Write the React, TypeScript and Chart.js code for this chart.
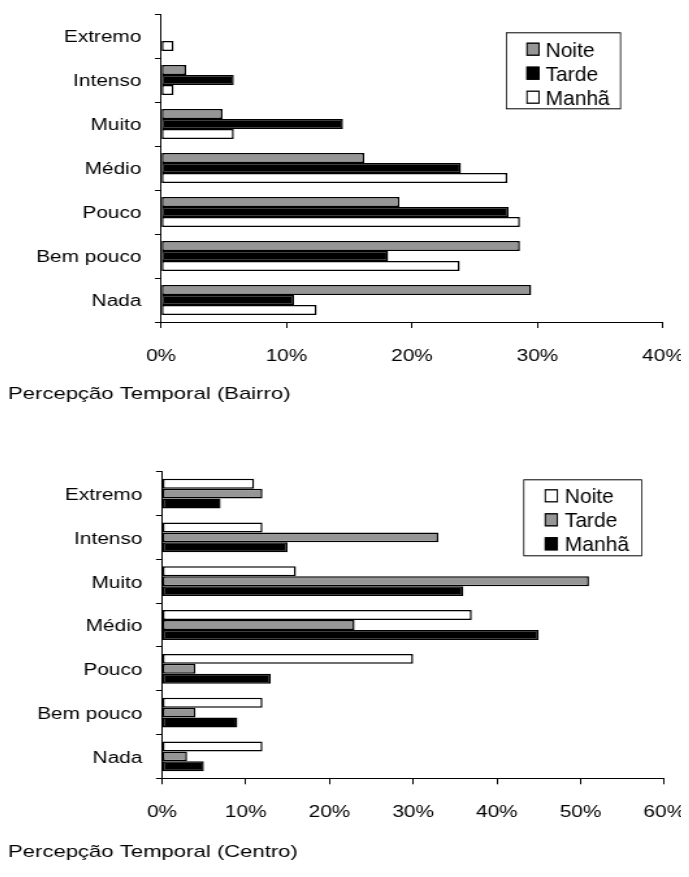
import { useEffect, useRef } from 'react';
import { Chart, registerables } from 'chart.js';

Chart.register(...registerables);

// Intensity levels, listed top to bottom
const categories = ['Extremo', 'Intenso', 'Muito', 'Médio', 'Pouco', 'Bem pouco', 'Nada'];
const periods = ['Noite', 'Tarde', 'Manhã'];

// Percepção temporal – Bairro (%)
const bairroNoite = [0, 2, 4.9, 16.2, 19.0, 28.6, 29.5];
const bairroTarde = [0, 5.8, 14.5, 23.9, 27.7, 18.1, 10.6];
const bairroManha = [1, 1, 5.8, 27.6, 28.6, 23.8, 12.4];
const bairroTicks = ['0%', '10%', '20%', '30%', '40%'];

// Percepção temporal – Centro (%)
const centroNoite = [11, 12, 16, 37, 30, 12, 12];
const centroTarde = [12, 33, 51, 23, 4, 4, 3];
const centroManha = [7, 15, 36, 45, 13, 9, 5];
const centroTicks = ['0%', '10%', '20%', '30%', '40%', '50%', '60%'];

const GRAY = '#969696';
const BLACK = '#000000';
const WHITE = '#ffffff';

const FONT = '"Liberation Sans", Arial, Helvetica, sans-serif';
const STRETCH = 1.3; // the figure is drawn narrow and widened horizontally
const CANVAS_W = 524;
const X_AXIS_H = 44;

// Boxed legend drawn inside the plot area (un-widened text)
const boxedLegend = {
  id: 'boxedLegend',
  afterDraw(chart: any, _args: any, opts: any) {
    const { ctx, chartArea } = chart;
    ctx.save();
    ctx.translate(chartArea.right, chartArea.top);
    ctx.scale(1 / STRETCH, 1);
    const left = -opts.right - opts.width;
    const top = opts.top;
    ctx.fillStyle = WHITE;
    ctx.fillRect(left, top, opts.width, opts.height);
    ctx.strokeStyle = BLACK;
    ctx.lineWidth = 1;
    ctx.strokeRect(left + 0.5, top + 0.5, opts.width - 1, opts.height - 1);
    ctx.font = `${opts.fontSize}px ${FONT}`;
    ctx.textAlign = 'left';
    ctx.textBaseline = 'alphabetic';
    chart.data.datasets.forEach((ds: any, i: number) => {
      const base = top + opts.firstBaseline + i * opts.rowStep;
      ctx.fillStyle = ds.backgroundColor;
      ctx.fillRect(left + opts.symbolX, base - 14, 13, 13);
      ctx.lineWidth = 1.3;
      ctx.strokeRect(left + opts.symbolX + 0.5, base - 13.5, 12, 12);
      ctx.fillStyle = BLACK;
      ctx.fillText(ds.label, left + opts.textX, base);
    });
    ctx.restore();
  },
};

type PanelProps = {
  title: string;
  series: number[][];
  colors: string[];
  tickLabels: string[];
  height: number;
  axisLeft: number;
  plotRight: number;
  padTop: number;
  tickPad: number;
  titlePad: { top: number; bottom: number };
  legend: any;
};

function BarPanel(p: PanelProps) {
  const ref = useRef<HTMLCanvasElement>(null);

  useEffect(() => {
    if (!ref.current) return;
    const maxVal = (p.tickLabels.length - 1) * 10;
    const chart = new Chart(ref.current, {
      type: 'bar',
      data: {
        labels: categories,
        datasets: periods.map((name, i) => ({
          label: name,
          data: p.series[i],
          backgroundColor: p.colors[i],
          borderColor: BLACK,
          borderWidth: 1.5,
          borderSkipped: false,
          categoryPercentage: 0.68,
          barPercentage: 1.0,
        })),
      },
      options: {
        indexAxis: 'y',
        animation: false,
        responsive: false,
        maintainAspectRatio: false,
        devicePixelRatio: 1,
        events: [],
        layout: {
          padding: { top: p.padTop, right: CANVAS_W - p.plotRight, bottom: 0, left: 0 },
        },
        scales: {
          x: {
            type: 'linear',
            min: 0,
            max: maxVal,
            border: { display: true, color: BLACK, width: 1 },
            grid: { display: true, drawOnChartArea: false, drawTicks: true, tickLength: 6, color: BLACK },
            ticks: {
              stepSize: 10,
              color: BLACK,
              padding: p.tickPad,
              font: { family: FONT, size: 16 },
              maxRotation: 0,
              callback: (_v: any, i: number) => p.tickLabels[i],
            },
            afterFit: (scale: any) => {
              scale.height = X_AXIS_H;
              scale.paddingLeft = 0;
              scale.paddingRight = 0;
            },
          },
          y: {
            type: 'category',
            border: { display: true, color: BLACK, width: 1 },
            grid: { display: true, offset: true, drawOnChartArea: false, drawTicks: true, tickLength: 6 / STRETCH, color: BLACK },
            ticks: { color: BLACK, padding: 10.5, labelOffset: 2, font: { family: FONT, size: 16 } },
            afterFit: (scale: any) => {
              scale.width = p.axisLeft;
              scale.paddingTop = 0;
              scale.paddingBottom = 0;
            },
          },
        },
        plugins: {
          legend: { display: false },
          tooltip: { enabled: false },
          title: {
            display: true,
            text: p.title,
            position: 'bottom',
            align: 'start',
            color: BLACK,
            font: { family: FONT, size: 17, weight: 'normal' },
            padding: p.titlePad,
          },
          boxedLegend: p.legend,
        } as any,
      },
      plugins: [boxedLegend],
    } as any);
    return () => chart.destroy();
  }, []);

  return (
    <canvas
      ref={ref}
      width={CANVAS_W}
      height={p.height}
      style={{ display: 'block', transform: `scaleX(${STRETCH})`, transformOrigin: '0 0' }}
    />
  );
}

export default function App() {
  return (
    <div style={{ width: 681, height: 861, overflow: 'hidden', background: WHITE }}>
      <BarPanel
        title="Percepção Temporal (Bairro)"
        series={[bairroNoite, bairroTarde, bairroManha]}
        colors={[GRAY, BLACK, WHITE]}
        tickLabels={bairroTicks}
        height={422}
        axisLeft={153 / STRETCH}
        plotRight={655 / STRETCH}
        padTop={6}
        tickPad={19.3}
        titlePad={{ top: 17.8, bottom: 25.8 }}
        legend={{ right: 42, top: 18.3, width: 115, height: 77, symbolX: 20.5, textX: 39.5, firstBaseline: 24.4, rowStep: 24, fontSize: 21 }}
      />
      <BarPanel
        title="Percepção Temporal (Centro)"
        series={[centroNoite, centroTarde, centroManha]}
        colors={[WHITE, GRAY, BLACK]}
        tickLabels={centroTicks}
        height={439}
        axisLeft={154 / STRETCH}
        plotRight={656.3 / STRETCH}
        padTop={41.7}
        tickPad={18.7}
        titlePad={{ top: 19.5, bottom: 6.8 }}
        legend={{ right: 22, top: 7.6, width: 119, height: 77, symbolX: 21.5, textX: 41.5, firstBaseline: 24, rowStep: 24, fontSize: 21 }}
      />
    </div>
  );
}
